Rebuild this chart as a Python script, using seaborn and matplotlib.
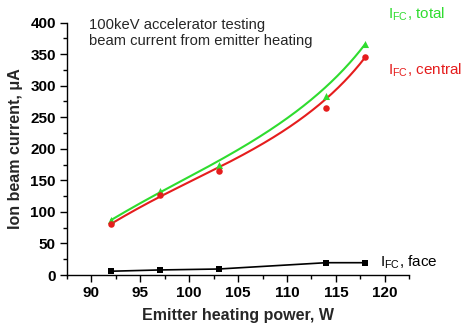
import numpy as np
import pandas as pd
import seaborn as sns
import matplotlib
matplotlib.use("Agg")
import matplotlib.pyplot as plt
from matplotlib.ticker import MultipleLocator

power = [92, 97, 103, 114, 118]
i_total = [87, 133, 175, 284, 366]
i_central = [81, 127, 165, 264, 345]
i_face = [6, 8, 9.5, 19.5, 19.5]

sns.set_theme(style="ticks")
plt.rcParams['font.family'] = ['Liberation Sans', 'DejaVu Sans']

df = pd.DataFrame({"power": power, "total": i_total, "central": i_central, "face": i_face})


def bspline(x, y, k=3, n=300):
    """Clamped uniform B-spline using the data points as control points."""
    P = np.column_stack([np.asarray(x, float), np.asarray(y, float)])
    m = len(P)
    inner = np.arange(1, m - k)
    knots = np.concatenate([np.zeros(k + 1), inner, np.full(k + 1, m - k)]).astype(float)
    us = np.linspace(0, m - k, n)
    us[-1] -= 1e-9

    def basis(i, p, u):
        if p == 0:
            return np.where((knots[i] <= u) & (u < knots[i + 1]), 1.0, 0.0)
        a = 0.0
        d1 = knots[i + p] - knots[i]
        d2 = knots[i + p + 1] - knots[i + 1]
        if d1 > 0:
            a = a + (u - knots[i]) / d1 * basis(i, p - 1, u)
        if d2 > 0:
            a = a + (knots[i + p + 1] - u) / d2 * basis(i + 1, p - 1, u)
        return a

    B = np.column_stack([basis(i, k, us) for i in range(m)])
    C = B @ P
    return C[:, 0], C[:, 1]


fig = plt.figure(figsize=(4.65, 3.27), dpi=100)
ax = fig.add_axes([0.144, 0.159, 0.736, 0.772])

green = "#2fdc2f"
red = "#e51d1d"

for col, color, marker, s in [("total", green, "^", 26), ("central", red, "o", 22)]:
    xs, ys = bspline(df["power"], df[col])
    sns.lineplot(x=xs, y=ys, ax=ax, color=color, lw=1.5, sort=False)
    sns.scatterplot(data=df, x="power", y=col, ax=ax, color=color, marker=marker,
                    s=s, linewidth=0, zorder=3)

sns.lineplot(data=df, x="power", y="face", ax=ax, color="black", marker="s",
             markersize=5, markeredgewidth=0, lw=1.2)

ax.set_xlim(87.5, 122.5)
ax.set_ylim(0, 400)
ax.xaxis.set_major_locator(MultipleLocator(5))
ax.xaxis.set_minor_locator(MultipleLocator(2.5))
ax.yaxis.set_major_locator(MultipleLocator(50))
ax.yaxis.set_minor_locator(MultipleLocator(25))
ax.tick_params(which="major", direction="out", length=5, width=1, labelsize=11, pad=3, colors="black")
ax.tick_params(which="minor", direction="out", length=3, width=1, colors="black")
for lab in ax.get_xticklabels() + ax.get_yticklabels():
    lab.set_fontweight("bold")
for s in ["top", "right"]:
    ax.spines[s].set_visible(False)
for s in ["left", "bottom"]:
    ax.spines[s].set_linewidth(1)
    ax.spines[s].set_color("black")

ax.set_xlabel("Emitter heating power, W", fontsize=11.5, fontweight="bold", labelpad=6)
ax.set_ylabel("Ion beam current, μA", fontsize=11.5, fontweight="bold", labelpad=5)

ax.text(0.065, 1.02, "100keV accelerator testing\nbeam current from emitter heating",
        transform=ax.transAxes, fontsize=10.6, va="top", ha="left", linespacing=1.25)

ax.text(388, 14, r"I$_\mathregular{FC}$, total", transform=None, color=green,
        fontsize=11, va="center", ha="left")
ax.text(388, 70, r"I$_\mathregular{FC}$, central", transform=None, color=red,
        fontsize=11, va="center", ha="left")
ax.text(380, 262, r"I$_\mathregular{FC}$, face", transform=None, color="black",
        fontsize=11, va="center", ha="left")

for t in ax.texts[1:]:
    x, y = t.get_position()
    t.set_transform(fig.transFigure)
    t.set_position((x / 465, 1 - y / 327))
    t.set_clip_on(False)

fig.savefig("out.png", dpi=100)
